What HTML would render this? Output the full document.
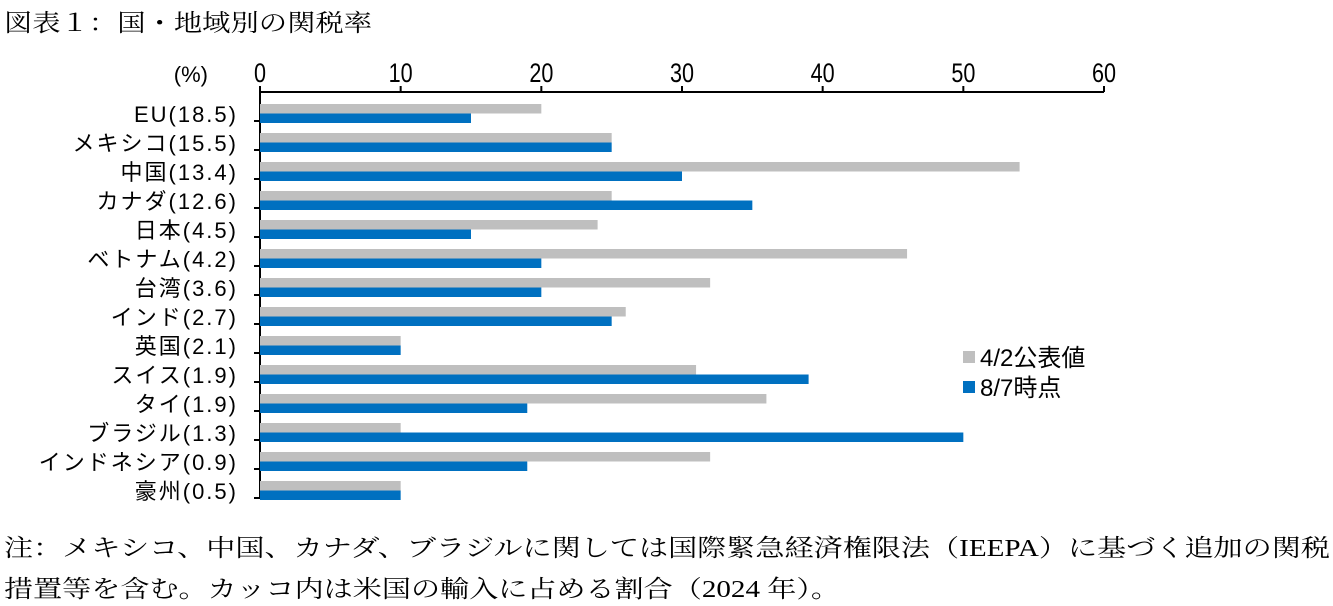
<!DOCTYPE html>
<html><head><meta charset="utf-8"><style>
body{margin:0;background:#fff;width:1333px;height:606px;overflow:hidden;position:relative}
svg{position:absolute;left:0;top:0}
svg text{font-family:"Liberation Sans","Noto Sans CJK JP",sans-serif;font-size:22px;fill:#000}
svg text.s{font-family:"Liberation Serif","Noto Serif CJK SC",serif;font-size:24px}
svg text.tk{font-size:27px}
svg text.lg{font-size:24px}
</style></head><body>
<svg width="1333" height="606">
<text class="s" x="4" y="31" textLength="368" lengthAdjust="spacingAndGlyphs">図表１：国・地域別の関税率</text>
<text class="s" x="4" y="556" textLength="1326" lengthAdjust="spacingAndGlyphs">注：メキシコ、中国、カナダ、ブラジルに関しては国際緊急経済権限法（IEEPA）に基づく追加の関税</text>
<text class="s" x="4" y="597" textLength="836" lengthAdjust="spacingAndGlyphs">措置等を含む。カッコ内は米国の輸入に占める割合（2024 年）。</text>
<g id="g"></g>
</svg>
<script>
const categories=["EU(18.5)","メキシコ(15.5)","中国(13.4)","カナダ(12.6)","日本(4.5)","ベトナム(4.2)","台湾(3.6)","インド(2.7)","英国(2.1)","スイス(1.9)","タイ(1.9)","ブラジル(1.3)","インドネシア(0.9)","豪州(0.5)"];
const announced=[20,25,54,25,24,46,32,26,10,31,36,10,32,10];
const current=[15,25,30,35,15,20,20,25,10,39,19,50,19,10];
const ticks=[0,10,20,30,40,50,60];
const seriesNames=["4/2公表値","8/7時点"];
const g=document.getElementById('g');
const NS="http://www.w3.org/2000/svg";
const x0=260,x1=1104,top0=92,rowH=29;
const xs=v=>x0+(x1-x0)*v/60;
function mk(t,a,p){const e=document.createElementNS(NS,t);for(const k in a)e.setAttribute(k,a[k]);(p||g).appendChild(e);return e;}
let e;
e=mk('line',{x1:x0,x2:x1,y1:top0,y2:top0,stroke:'#000','stroke-width':2});


e=mk('line',{x1:x0,x2:x0,y1:top0,y2:top0+rowH*categories.length,stroke:'#000','stroke-width':2});


ticks.forEach(t=>{
 e=mk('line',{x1:xs(t),x2:xs(t),y1:top0-6,y2:top0,stroke:'#000','stroke-width':2});
 
 
 e=mk('text',{class:'tk',x:xs(t),y:82,'text-anchor':'middle',transform:`translate(${xs(t)},0) scale(0.8,1) translate(${-xs(t)},0)`});e.textContent=t;
 
 
});
e=mk('text',{x:208,y:82,'text-anchor':'end'});e.textContent='(%)';


categories.forEach((c,i)=>{
 const y=top0+rowH*i;
 e=mk('line',{x1:x0-6,x2:x0,y1:y+rowH,y2:y+rowH,stroke:'#000','stroke-width':2});
 
 
 e=mk('rect',{x:x0,y:y+12,width:xs(announced[i])-x0,height:9.5,fill:'#bfbfbf'});
 
 
 e=mk('rect',{x:x0,y:y+21.5,width:xs(current[i])-x0,height:9.5,fill:'#0070c0'});
 
 
 e=mk('text',{x:238,y:y+30,'text-anchor':'end','letter-spacing':'2px'});e.textContent=c;
 
 
});
[['#bfbfbf',357],['#0070c0',387]].forEach((l,i)=>{
 e=mk('rect',{x:963,y:l[1]-6,width:12,height:12,fill:l[0]});
 
 
 e=mk('text',{class:'lg',x:980,y:l[1]+9});e.textContent=seriesNames[i];
 
 
});
</script>
</body></html>
